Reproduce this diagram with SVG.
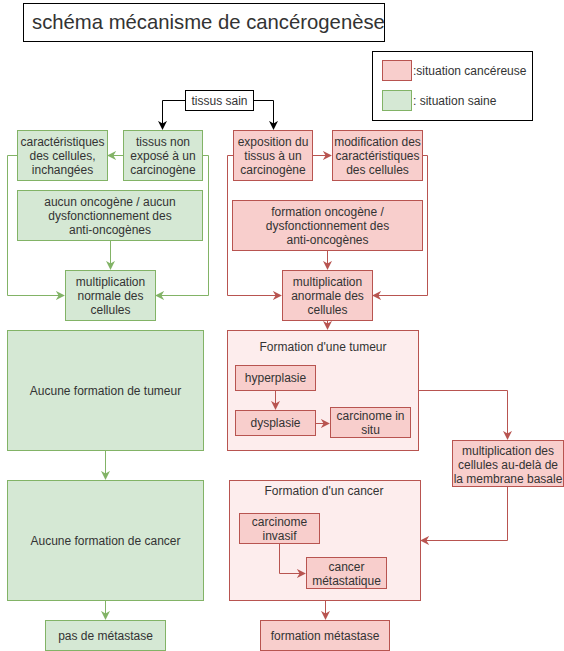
<svg xmlns="http://www.w3.org/2000/svg" width="564" height="651" viewBox="0 0 564 651">
<style>
text{font-family:"Liberation Sans",Arial,sans-serif;font-size:12px;fill:#333;text-anchor:middle}
.g{fill:#d5e8d4;stroke:#82b366;stroke-width:1}
.r{fill:#f8cecc;stroke:#b85450;stroke-width:1}
.rc{fill:#fdeded;stroke:#b85450;stroke-width:1}
.k{fill:#fff;stroke:#000;stroke-width:1}
.lg{fill:none;stroke:#82b366;stroke-width:1}
.lr{fill:none;stroke:#b85450;stroke-width:1}
.lk{fill:none;stroke:#000;stroke-width:1}
</style>
<defs>
<marker id="ak" viewBox="0 0 10 10" refX="9" refY="5" markerWidth="9" markerHeight="9" markerUnits="userSpaceOnUse" orient="auto"><path d="M0,0 L10,5 L0,10 L3,5 z" fill="#000"/></marker>
<marker id="ag" viewBox="0 0 10 10" refX="9" refY="5" markerWidth="9" markerHeight="9" markerUnits="userSpaceOnUse" orient="auto"><path d="M0,0 L10,5 L0,10 L3,5 z" fill="#82b366"/></marker>
<marker id="ar" viewBox="0 0 10 10" refX="9" refY="5" markerWidth="9" markerHeight="9" markerUnits="userSpaceOnUse" orient="auto"><path d="M0,0 L10,5 L0,10 L3,5 z" fill="#b85450"/></marker>
</defs>
<rect width="564" height="651" fill="#fff"/>

<g id="title">
<rect class="k" x="23.5" y="3.5" width="361" height="38"/>
<text x="32" y="29" style="font-size:20.3px;text-anchor:start">schéma mécanisme de cancérogenèse</text>
</g>

<g id="legend">
<rect class="k" x="372.5" y="51.5" width="160" height="69"/>
<rect class="r" x="382.5" y="60.5" width="29" height="20"/>
<rect class="g" x="382.5" y="90.5" width="29" height="20"/>
<text x="413" y="75" style="text-anchor:start">:situation cancéreuse</text>
<text x="413" y="105" style="text-anchor:start">: situation saine</text>
</g>

<g id="tissus-sain">
<rect class="k" x="185.5" y="90.5" width="68" height="20"/>
<text x="219.5" y="105">tissus sain</text>
</g>

<g id="caracteristiques">
<rect class="g" x="17.5" y="130.5" width="90" height="50"/>
<text x="62.5" y="146">caractéristiques</text>
<text x="62.5" y="160">des cellules,</text>
<text x="62.5" y="174">inchangées</text>
</g>
<g id="tissus-non-expose">
<rect class="g" x="123.5" y="130.5" width="79" height="50"/>
<text x="163" y="146">tissus non</text>
<text x="163" y="160">exposé à un</text>
<text x="163" y="174">carcinogène</text>
</g>
<g id="aucun-oncogene">
<rect class="g" x="17.5" y="190.5" width="185" height="50"/>
<text x="110" y="206">aucun oncogène / aucun</text>
<text x="110" y="220">dysfonctionnement des</text>
<text x="110" y="234">anti-oncogènes</text>
</g>
<g id="multiplication-normale">
<rect class="g" x="65.5" y="270.5" width="90" height="50"/>
<text x="110.5" y="286">multiplication</text>
<text x="110.5" y="300">normale des</text>
<text x="110.5" y="314">cellules</text>
</g>

<g id="exposition">
<rect class="r" x="233.5" y="130.5" width="79" height="50"/>
<text x="273" y="146">exposition du</text>
<text x="273" y="160">tissus à un</text>
<text x="273" y="174">carcinogène</text>
</g>
<g id="modification">
<rect class="r" x="332.5" y="130.5" width="90" height="50"/>
<text x="377.5" y="146">modification des</text>
<text x="377.5" y="160">caractéristiques</text>
<text x="377.5" y="174">des cellules</text>
</g>
<g id="formation-oncogene">
<rect class="r" x="232.5" y="200.5" width="190" height="50"/>
<text x="327.5" y="216">formation oncogène /</text>
<text x="327.5" y="230">dysfonctionnement des</text>
<text x="327.5" y="244">anti-oncogènes</text>
</g>
<g id="multiplication-anormale">
<rect class="r" x="282.5" y="270.5" width="90" height="50"/>
<text x="327.5" y="286">multiplication</text>
<text x="327.5" y="300">anormale des</text>
<text x="327.5" y="314">cellules</text>
</g>

<g id="formation-tumeur">
<rect class="rc" x="227.5" y="330.5" width="191" height="120"/>
<text x="323" y="351">Formation d'une tumeur</text>
</g>
<g id="hyperplasie">
<rect class="r" x="235.5" y="365.5" width="80" height="25"/>
<text x="275.5" y="382">hyperplasie</text>
</g>
<g id="dysplasie">
<rect class="r" x="235.5" y="410.5" width="80" height="25"/>
<text x="275.5" y="427">dysplasie</text>
</g>
<g id="carcinome-in-situ">
<rect class="r" x="330.5" y="407.5" width="80" height="30"/>
<text x="370.5" y="420">carcinome in</text>
<text x="370.5" y="434">situ</text>
</g>

<g id="multiplication-membrane">
<rect class="r" x="452.5" y="440.5" width="111" height="46"/>
<text x="508" y="455">multiplication des</text>
<text x="508" y="469">cellules au-delà de</text>
<text x="508" y="483">la membrane basale</text>
</g>

<g id="formation-cancer">
<rect class="rc" x="229.5" y="480.5" width="191" height="120"/>
<text x="324" y="495">Formation d'un cancer</text>
</g>
<g id="carcinome-invasif">
<rect class="r" x="239.5" y="513.5" width="80" height="30"/>
<text x="279.5" y="526">carcinome</text>
<text x="279.5" y="540">invasif</text>
</g>
<g id="cancer-metastatique">
<rect class="r" x="306.5" y="557.5" width="80" height="31"/>
<text x="346.5" y="571">cancer</text>
<text x="346.5" y="585">métastatique</text>
</g>
<g id="formation-metastase">
<rect class="r" x="260.5" y="620.5" width="129" height="30"/>
<text x="325" y="640">formation métastase</text>
</g>

<g id="aucune-tumeur">
<rect class="g" x="7.5" y="330.5" width="196" height="120"/>
<text x="105.5" y="395">Aucune formation de tumeur</text>
</g>
<g id="aucune-cancer">
<rect class="g" x="7.5" y="480.5" width="196" height="120"/>
<text x="105.5" y="545">Aucune formation de cancer</text>
</g>
<g id="pas-metastase">
<rect class="g" x="45.5" y="620.5" width="120" height="30"/>
<text x="105.5" y="640">pas de métastase</text>
</g>

<g id="connectors">
<path class="lk" d="M185,100.5 H162.5 V129" marker-end="url(#ak)"/>
<path class="lk" d="M254,100.5 H273.5 V129" marker-end="url(#ak)"/>
<path class="lg" d="M123,155.5 H108" marker-end="url(#ag)"/>
<path class="lg" d="M17,155.5 H7.5 V295.5 H64" marker-end="url(#ag)"/>
<path class="lg" d="M203,155.5 H208.5 V295.5 H156" marker-end="url(#ag)"/>
<path class="lg" d="M110.5,241 V269" marker-end="url(#ag)"/>
<path class="lr" d="M313,155.5 H331" marker-end="url(#ar)"/>
<path class="lr" d="M233,155.5 H227.5 V295.5 H281" marker-end="url(#ar)"/>
<path class="lr" d="M423,155.5 H427.5 V295.5 H373" marker-end="url(#ar)"/>
<path class="lr" d="M327.5,251 V269" marker-end="url(#ar)"/>
<path class="lr" d="M327.5,321 V329" marker-end="url(#ar)"/>
<path class="lr" d="M275.5,391 V409" marker-end="url(#ar)"/>
<path class="lr" d="M316,423.5 H329" marker-end="url(#ar)"/>
<path class="lr" d="M419,390.5 H507.5 V439" marker-end="url(#ar)"/>
<path class="lr" d="M507.5,487 V540.5 H421" marker-end="url(#ar)"/>
<path class="lr" d="M279.5,544 V573.5 H305" marker-end="url(#ar)"/>
<path class="lr" d="M325.5,601 V619" marker-end="url(#ar)"/>
<path class="lg" d="M105.5,451 V479" marker-end="url(#ag)"/>
<path class="lg" d="M105.5,601 V619" marker-end="url(#ag)"/>
</g>
</svg>
